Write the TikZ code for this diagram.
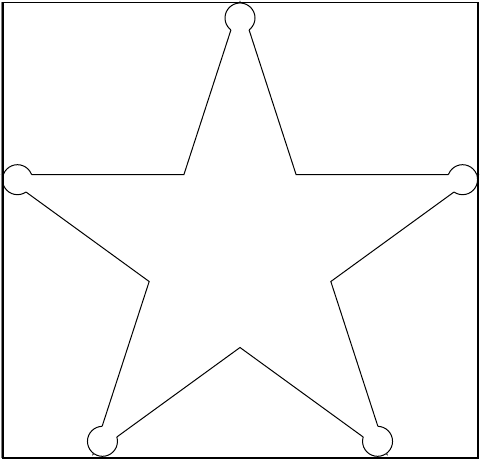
\documentclass[tikz,border=0pt]{standalone}
\begin{document}
\begin{tikzpicture}[x=0.5pt,y=0.5pt,
  starline/.style={line width=0.5pt,black},
  frameline/.style={line width=0.8pt,black}]
\useasboundingbox (0,0) rectangle (480,461);
\coordinate (C) at (240,209);
\foreach \i in {0,...,4} {
  \path (C) ++(90+72*\i:250) coordinate (T\i);
  \path (C) ++(126+72*\i:95.5) coordinate (I\i);
  \path (C) ++(90+72*\i:234) coordinate (O\i);
}
% star edges outside the tip circles
\begin{scope}[even odd rule]
  \clip (-10,-10) rectangle (490,471)
    (O0) circle (15) (O1) circle (15) (O2) circle (15) (O3) circle (15) (O4) circle (15);
  \draw[starline] (T0)--(I0)--(T1)--(I1)--(T2)--(I2)--(T3)--(I3)--(T4)--(I4)--cycle;
\end{scope}
% tip circles outside the star
\begin{scope}[even odd rule]
  \clip (-10,-10) rectangle (490,471)
    (T0)--(I0)--(T1)--(I1)--(T2)--(I2)--(T3)--(I3)--(T4)--(I4)--cycle;
  \foreach \i in {0,...,4} \draw[starline] (O\i) circle (15);
\end{scope}
% frame
\draw[frameline] (3.2,3) rectangle (477.8,458.5);
\draw[gray,line width=0.5pt] (1,3) -- (1,458.5);
\end{tikzpicture}
\end{document}
